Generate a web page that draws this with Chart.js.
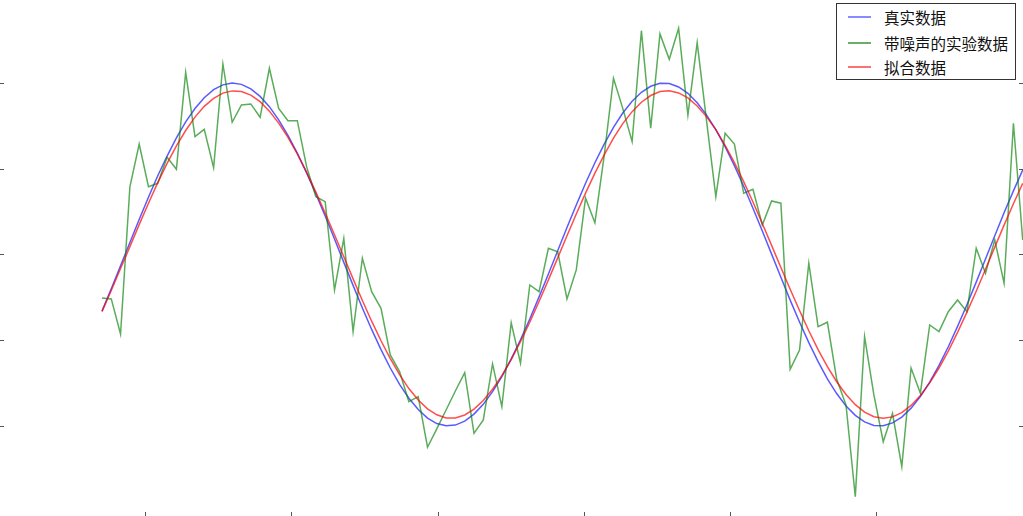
<!DOCTYPE html>
<html>
<head>
<meta charset="utf-8">
<script src="https://cdn.jsdelivr.net/npm/chart.js@4.4.0/dist/chart.umd.min.js"></script>
<style>
  html, body { margin: 0; padding: 0; background: #ffffff; }
  #wrap { position: relative; width: 1023px; height: 516px; overflow: hidden; }
  #legend {
    position: absolute; left: 836px; top: 3px; width: 180px; height: 77px;
    border: 1px solid #333; background: #fff; box-sizing: border-box;
    font-family: "Noto Sans CJK SC", "Noto Sans", sans-serif; font-size: 15.5px; color: #111;
  }
  .item { position: absolute; left: 0; height: 20px; width: 100%; }
  .swatch { position: absolute; left: 11px; width: 23px; height: 2px; top: 9px; }
  .label { position: absolute; left: 47px; top: 0; line-height: 20px; white-space: nowrap; }
</style>
</head>
<body>
<div id="wrap">
  <canvas id="c" width="1023" height="516"></canvas>
  <div id="legend"></div>
</div>
<script>
// x positions of the samples
const xs = [1.409,1.536,1.663,1.791,1.918,2.045,2.172,2.300,2.427,2.554,
  2.681,2.808,2.936,3.063,3.190,3.317,3.445,3.572,3.699,3.826,
  3.953,4.081,4.208,4.335,4.462,4.590,4.717,4.844,4.971,5.098,
  5.226,5.353,5.480,5.607,5.735,5.862,5.989,6.116,6.243,6.371,
  6.498,6.625,6.752,6.879,7.007,7.134,7.261,7.388,7.516,7.643,
  7.770,7.897,8.024,8.152,8.279,8.406,8.533,8.661,8.788,8.915,
  9.042,9.169,9.297,9.424,9.551,9.678,9.806,9.933,10.060,10.187,
  10.314,10.442,10.569,10.696,10.823,10.951,11.078,11.205,11.332,11.459,
  11.587,11.714,11.841,11.968,12.096,12.223,12.350,12.477,12.604,12.732,
  12.859,12.986,13.113,13.241,13.368,13.495,13.622,13.749,13.877,14.004];

// 真实数据
const trueData = [-0.330,-0.200,-0.066,0.070,0.204,0.334,0.459,0.574,0.680,0.773,
  0.851,0.914,0.961,0.989,1.000,0.992,0.966,0.922,0.862,0.785,
  0.694,0.591,0.476,0.353,0.224,0.090,-0.046,-0.180,-0.312,-0.437,
  -0.555,-0.662,-0.757,-0.838,-0.904,-0.954,-0.986,-0.999,-0.995,-0.972,
  -0.931,-0.874,-0.800,-0.712,-0.609,-0.497,-0.376,-0.247,-0.114,0.022,
  0.157,0.289,0.415,0.535,0.644,0.741,0.825,0.894,0.946,0.981,
  0.998,0.997,0.977,0.940,0.885,0.814,0.728,0.629,0.518,0.398,
  0.270,0.137,0.002,-0.133,-0.266,-0.394,-0.514,-0.625,-0.725,-0.811,
  -0.883,-0.938,-0.976,-0.997,-0.999,-0.982,-0.948,-0.896,-0.828,-0.744,
  -0.647,-0.538,-0.419,-0.293,-0.161,-0.026,0.109,0.243,0.371,0.493];

// 带噪声的实验数据
const noisyData = [-0.254,-0.259,-0.464,0.395,0.644,0.395,0.415,0.567,0.497,1.062,
  0.687,0.730,0.506,1.111,0.771,0.872,0.878,0.800,1.086,0.852,
  0.780,0.780,0.512,0.337,0.308,-0.207,0.094,-0.450,-0.022,-0.217,
  -0.314,-0.586,-0.683,-0.858,-0.829,-1.124,-1.017,-0.907,-0.796,-0.689,
  -1.043,-0.965,-0.638,-0.887,-0.398,-0.634,-0.178,-0.217,0.036,0.016,
  -0.259,-0.090,0.329,0.185,0.576,1.027,0.852,0.658,1.305,0.736,
  1.286,1.138,1.319,0.813,1.235,0.784,0.337,0.707,0.644,0.357,
  0.380,0.172,0.312,0.299,-0.669,-0.557,-0.051,-0.421,-0.395,-0.726,
  -0.878,-1.412,-0.479,-0.819,-1.092,-0.926,-1.237,-0.662,-0.809,-0.411,
  -0.450,-0.334,-0.265,-0.334,0.036,-0.110,0.085,-0.168,0.765,0.085];

// 拟合数据
const fitData = [-0.333,-0.210,-0.082,0.046,0.174,0.299,0.419,0.531,0.633,0.723,
  0.801,0.864,0.910,0.941,0.954,0.950,0.929,0.891,0.836,0.766,
  0.683,0.586,0.480,0.364,0.242,0.115,-0.013,-0.142,-0.268,-0.389,
  -0.503,-0.607,-0.701,-0.782,-0.849,-0.900,-0.935,-0.953,-0.953,-0.936,
  -0.902,-0.852,-0.786,-0.706,-0.613,-0.508,-0.395,-0.274,-0.148,-0.020,
  0.109,0.236,0.358,0.474,0.581,0.678,0.763,0.833,0.888,0.927,
  0.950,0.955,0.942,0.913,0.866,0.804,0.728,0.637,0.536,0.425,
  0.306,0.181,0.053,-0.076,-0.203,-0.327,-0.445,-0.555,-0.654,-0.742,
  -0.816,-0.876,-0.919,-0.946,-0.955,-0.947,-0.922,-0.880,-0.822,-0.749,
  -0.662,-0.563,-0.454,-0.336,-0.214,-0.086,0.043,0.171,0.296,0.415];

const seriesNames = ['真实数据', '带噪声的实验数据', '拟合数据'];
const seriesColors = ['rgba(0,0,255,0.65)', 'rgba(0,128,0,0.65)', 'rgba(255,0,0,0.7)'];
const swatchColors = ['#8a8aff', '#6aae6a', '#ff7070'];

const xTickValues = [2, 4, 6, 8, 10, 12];
const yTickValues = [-1, -0.5, 0, 0.5, 1];

const tickMarks = {
  id: 'tickMarks',
  afterDraw(chart) {
    const ctx = chart.ctx, a = chart.chartArea;
    const sx = chart.scales.x, sy = chart.scales.y;
    ctx.save();
    ctx.strokeStyle = '#555';
    ctx.lineWidth = 1;
    ctx.beginPath();
    xTickValues.forEach(v => {
      const px = Math.round(sx.getPixelForValue(v)) + 0.5;
      ctx.moveTo(px, a.bottom); ctx.lineTo(px, a.bottom - 4);
    });
    yTickValues.forEach(v => {
      const py = Math.round(sy.getPixelForValue(v)) + 0.5;
      ctx.moveTo(a.left, py); ctx.lineTo(a.left + 4, py);
      ctx.moveTo(a.right, py); ctx.lineTo(a.right - 4, py);
    });
    ctx.stroke();
    ctx.restore();
  }
};

const allData = [trueData, noisyData, fitData];
new Chart(document.getElementById('c'), {
  type: 'line',
  data: {
    labels: xs,
    datasets: allData.map((d, i) => ({
      label: seriesNames[i],
      data: d,
      borderColor: seriesColors[i],
      backgroundColor: seriesColors[i],
      borderWidth: 1.5,
      pointRadius: 0,
      tension: 0,
      fill: false,
      order: 2 - i
    }))
  },
  options: {
    responsive: false,
    animation: false,
    layout: { padding: 0, autoPadding: false },
    scales: {
      x: { type: 'linear', min: 0.014, max: 14.008, display: false },
      y: { type: 'linear', min: -1.525, max: 1.484, display: false }
    },
    plugins: { legend: { display: false }, tooltip: { enabled: false } }
  },
  plugins: [tickMarks]
});

// legend (HTML text)
const lg = document.getElementById('legend');
const tops = [3, 29, 53];
seriesNames.forEach((n, i) => {
  const it = document.createElement('div');
  it.className = 'item';
  it.style.top = tops[i] + 'px';
  it.innerHTML = '<span class="swatch" style="background:' + swatchColors[i] + '"></span><span class="label">' + n + '</span>';
  lg.appendChild(it);
});
</script>
</body>
</html>
